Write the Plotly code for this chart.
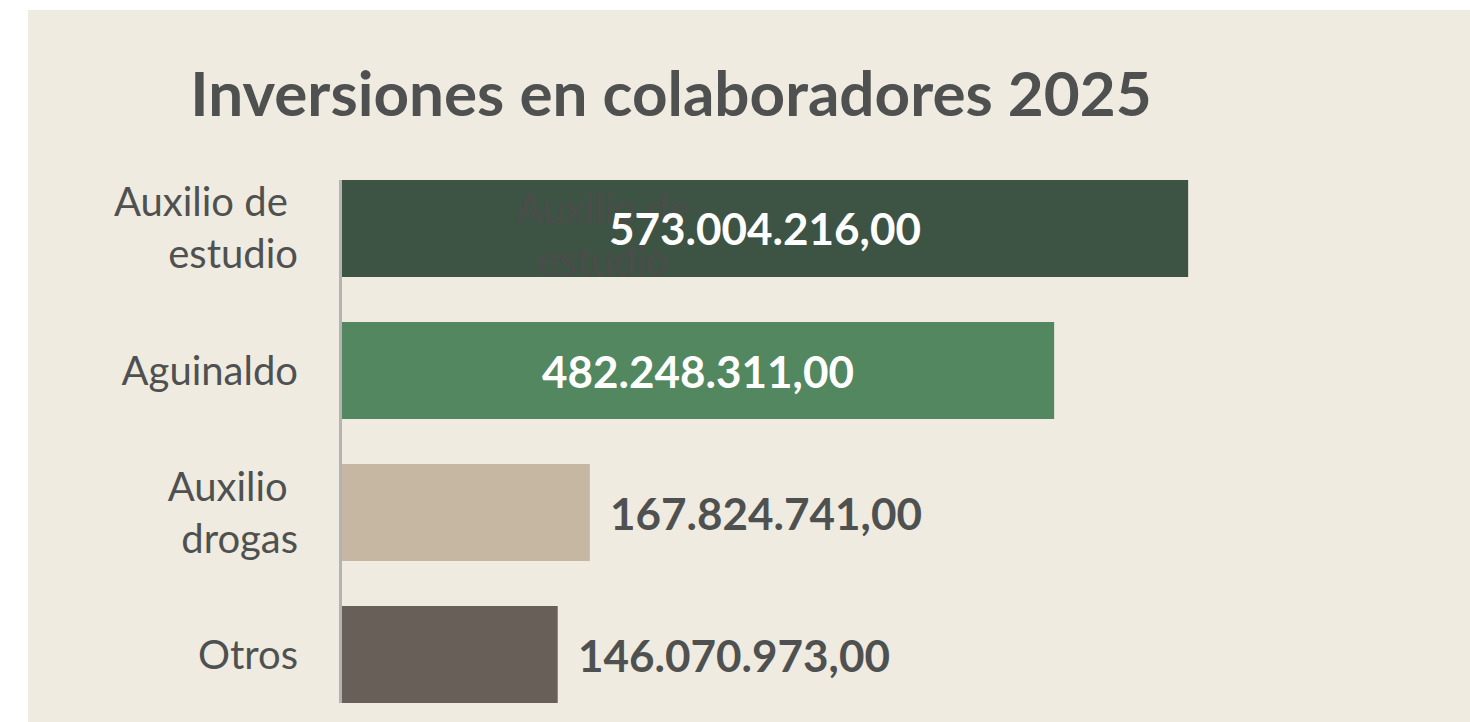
import plotly.graph_objects as go

# Data
categories = ["Auxilio de\u00a0<br>estudio", "Aguinaldo", "Auxilio\u00a0<br>drogas", "Otros"]
values = [573004216.00, 482248311.00, 167824741.00, 146070973.00]
value_labels = ["573.004.216,00", "482.248.311,00", "167.824.741,00", "146.070.973,00"]
bar_colors = ["#3d5343", "#52875f", "#c5b7a2", "#675f58"]
label_inside = [True, True, False, False]
ghost_label = "Auxilio de<br>estudio"

W, H = 1470, 722
BG = "#efebe0"
TEXT = "#4f5150"
FONT = "Lato"

ml, mr, mt, mb = 342, 28, 180, 19
bargap = 0.317
half = (1 - bargap) / 2
n = len(categories)
plot_w = W - ml - mr
plot_h = H - mt - mb

fig = go.Figure(
    go.Bar(
        x=values,
        y=list(range(n)),
        orientation="h",
        marker=dict(color=bar_colors, line=dict(width=0)),
        hoverinfo="skip",
    )
)

# beige card with a thin white margin on the left and top
fig.add_shape(
    type="rect", xref="paper", yref="paper", layer="below",
    x0=(28 - ml) / plot_w, x1=(W - ml) / plot_w,
    y0=-(mb) / plot_h, y1=(H - 10 - mb) / plot_h,
    fillcolor=BG, line=dict(width=0),
)

# faint category text sitting inside the first bar (drawn before the value labels)
fig.add_annotation(
    text=ghost_label, xref="paper", yref="y", x=(603 - ml) / plot_w, y=0,
    xanchor="center", yanchor="middle", yshift=-6, showarrow=False, align="center",
    font=dict(family=FONT, size=40, color="#4b4c4b"),
)

# value labels: centred inside the long bars, just past the end of the short ones
for i, (v, lab, inside) in enumerate(zip(values, value_labels, label_inside)):
    fig.add_annotation(
        text=f"<b>{lab}</b>", xref="x", yref="y",
        x=v / 2 if inside else v, y=i,
        xanchor="center" if inside else "left", yanchor="middle",
        xshift=0 if inside else 18, showarrow=False,
        font=dict(family=FONT, size=44, color="#ffffff" if inside else TEXT),
    )

fig.update_layout(
    width=W, height=H,
    margin=dict(l=ml, r=mr, t=mt, b=mb, pad=0),
    paper_bgcolor="#ffffff",
    plot_bgcolor="rgba(0,0,0,0)",
    bargap=bargap,
    showlegend=False,
    title=dict(
        text="<b>Inversiones en colaboradores 2025</b>",
        font=dict(family=FONT, size=62, color=TEXT),
        x=671 / W, xanchor="center", xref="container",
        y=1 - 94 / H, yanchor="middle", yref="container",
    ),
    xaxis=dict(
        range=[0, max(values) * 1.3], visible=False, showgrid=False, zeroline=False,
    ),
    yaxis=dict(
        range=[n - 1 + half, -half],
        tickmode="array", tickvals=list(range(n)), ticktext=categories,
        showgrid=False, zeroline=False,
        showline=True, linecolor="#b3b3b3", linewidth=3,
        ticks="", ticklabelstandoff=33,
        tickfont=dict(family=FONT, size=40, color=TEXT),
    ),
)

fig.write_html("out.html")
